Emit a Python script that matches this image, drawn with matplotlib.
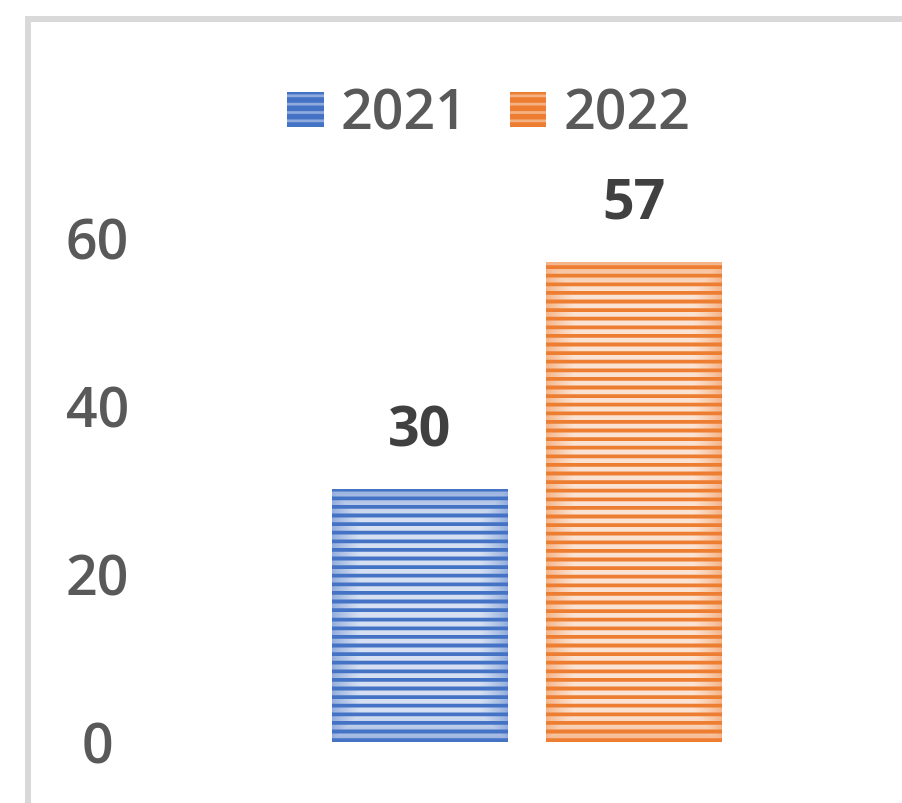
"""Столбцы 2021 vs 2022 с полосатой заливкой в стиле Excel."""
import matplotlib.pyplot as plt
import numpy as np
from matplotlib.patches import Patch, Rectangle

SERIES = ["2021", "2022"]
VALUES = [30, 57]
YTICKS = [0, 20, 40, 60]

# base, light stripe at the edge, light stripe in the centre
BLUE = ("#4472C4", "#8FAADC", "#D6E0F2")
ORANGE = ("#ED7D31", "#F4B183", "#FBE3D3")
COLORS = [BLUE, ORANGE]

plt.rcParams["font.family"] = ["Open Sans", "DejaVu Sans"]
plt.rcParams["hatch.linewidth"] = 2.0


def rgb(c):
    c = c.lstrip("#")
    return np.array([int(c[i:i + 2], 16) for i in (0, 2, 4)]) / 255


def stripe_fill(ax, patch, colors, period=8.6, dark=3.8, fade=28):
    base, edge, center = (rgb(c) for c in colors)
    x0, y0 = patch.get_x(), patch.get_y()
    w, h = patch.get_width(), patch.get_height()
    (px0, py0), (px1, py1) = ax.transData.transform([(x0, y0), (x0 + w, y0 + h)])
    nw, nh = int(round(px1 - px0)), int(round(py1 - py0))
    xx = np.arange(nw)[None, :] + 0.5
    yy = np.arange(nh)[:, None] + 0.5
    d = np.minimum(np.minimum(xx, nw - xx), np.minimum(yy, nh - yy))
    t = np.clip(d / fade, 0, 1) ** 0.8
    light = edge + (center - edge) * t[..., None]
    # stripe coverage per row, supersampled
    sub = (np.arange(nh)[:, None] + (np.arange(4) + 0.5) / 4)
    cov = (((nh - sub) % period) < dark).mean(axis=1)[:, None, None]
    img = base * cov + light * (1 - cov)
    ax.imshow(img, extent=(x0, x0 + w, y0, y0 + h), origin="upper",
              aspect="auto", interpolation="nearest", zorder=3)


def main() -> None:
    fig = plt.figure(figsize=(9.03, 8.04), dpi=100)
    ax = fig.add_axes([150 / 903, 61 / 804, 754 / 903, 505 / 804])

    width, gap = 0.2334, 0.0504
    offsets = (np.arange(len(SERIES)) - (len(SERIES) - 1) / 2) * (width + gap)
    ax.set_xlim(-0.5, 0.5)
    ax.set_ylim(0, 60)
    for off, val, cols in zip(offsets, VALUES, COLORS):
        bar = ax.bar(off, val, width, color=cols[0], zorder=2)[0]
        stripe_fill(ax, bar, cols)
        ax.annotate(str(val), (off, val), xytext=(0, 32), textcoords="offset points",
                    ha="center", va="baseline", fontsize=40, fontweight="bold",
                    color="#404040", annotation_clip=False)
    ax.set_xlim(-0.5, 0.5)
    ax.set_ylim(0, 60)

    ax.set_xticks([])
    ax.set_yticks(YTICKS)
    ax.tick_params(axis="y", length=0, pad=38, labelsize=40, labelcolor="#595959")
    for lbl in ax.get_yticklabels():
        lbl.set_ha("center")
        lbl.set_fontweight("semibold")
    for s in ax.spines.values():
        s.set_visible(False)

    handles = [Patch(facecolor=c[0], edgecolor=c[1], hatch="--", lw=0) for c in COLORS]
    leg = fig.legend(handles, SERIES, loc="center",
                     bbox_to_anchor=(489 / 903, 1 - 116 / 804),
                     ncol=2, frameon=False, fontsize=40, labelcolor="#595959",
                     handlelength=0.65, handleheight=0.61, handletextpad=0.31,
                     columnspacing=0.77, borderpad=0.1)
    for t in leg.get_texts():
        t.set_fontweight("semibold")

    # chart-area border, cut off on the right and bottom as in the source
    fig.patches.append(Rectangle((28 / 903, -0.1), 1.2, 1.1 - 20 / 804,
                                 transform=fig.transFigure, fill=False,
                                 edgecolor="#D9D9D9", lw=4.3))

    fig.savefig("out.png", dpi=100)
    plt.close(fig)


if __name__ == "__main__":
    main()
